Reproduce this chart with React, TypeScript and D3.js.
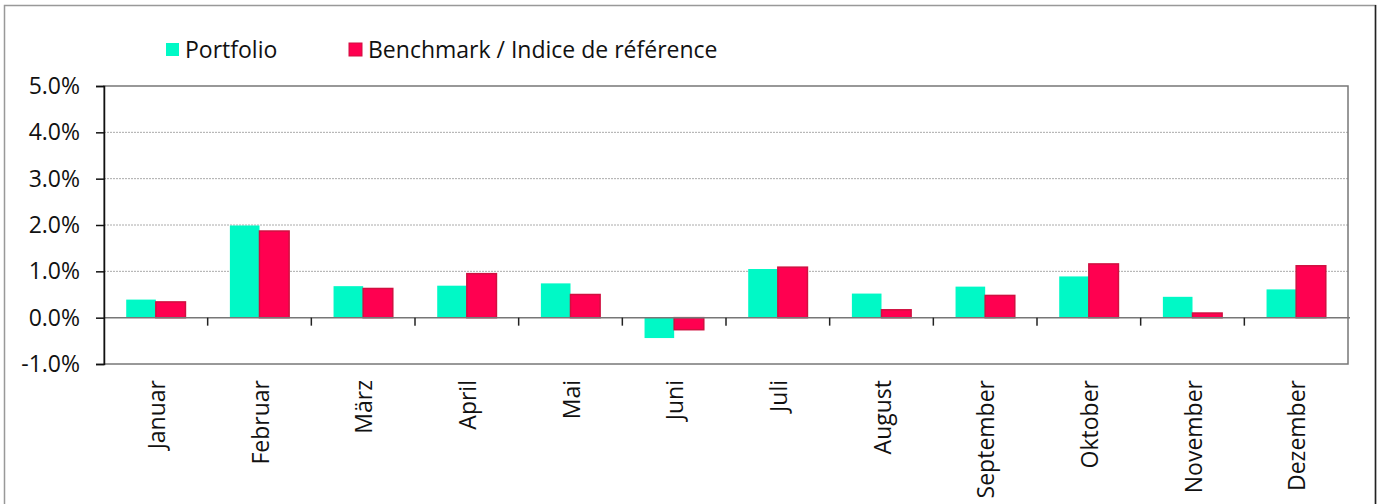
import React, { useEffect, useRef } from 'react';
import * as d3 from 'd3';

const months = ['Januar', 'Februar', 'März', 'April', 'Mai', 'Juni', 'Juli', 'August', 'September', 'Oktober', 'November', 'Dezember'];
const portfolio = [0.39, 1.99, 0.68, 0.69, 0.74, -0.44, 1.05, 0.52, 0.67, 0.89, 0.45, 0.61];
const benchmark = [0.34, 1.87, 0.63, 0.95, 0.50, -0.26, 1.09, 0.17, 0.48, 1.16, 0.10, 1.12];
const yTicks = [-1, 0, 1, 2, 3, 4, 5];
const seriesNames = ['Portfolio', 'Benchmark / Indice de référence'];

function Chart() {
  const ref = useRef<SVGSVGElement>(null);

  useEffect(() => {
    const svg = d3.select(ref.current);
    svg.selectAll('*').remove();

    const width = 1385, height = 504;
    const left = 104, right = 1348, top = 86, bottom = 364;
    const font = 'Open Sans, sans-serif';
    const fs = 23;

    svg.attr('width', width).attr('height', height);

    // outer frame (bottom edge runs off the picture)
    svg.append('rect')
      .attr('x', 4.5).attr('y', 5.5)
      .attr('width', 1371).attr('height', 510)
      .attr('fill', 'white').attr('stroke', '#999').attr('stroke-width', 1.5);
    svg.append('line')
      .attr('x1', 1375.5).attr('x2', 1375.5).attr('y1', 5).attr('y2', height)
      .attr('stroke', '#222').attr('stroke-width', 1.5);

    const x = d3.scaleBand().domain(months).range([left, right]);
    const y = d3.scaleLinear().domain([-1, 5]).range([bottom, top]);
    const barW = x.bandwidth() / 3.5;

    // gridlines
    svg.append('g')
      .selectAll('line')
      .data(yTicks.filter(d => d > 0 && d < 5))
      .enter()
      .append('line')
      .attr('x1', left).attr('x2', right)
      .attr('y1', d => y(d)).attr('y2', d => y(d))
      .attr('stroke', '#aaa').attr('stroke-dasharray', '2,1').attr('stroke-width', 1);

    // plot border
    svg.append('rect')
      .attr('x', left).attr('y', y(5))
      .attr('width', right - left).attr('height', y(-1) - y(5))
      .attr('fill', 'none').attr('stroke', '#777').attr('stroke-width', 1.5);

    const groups = svg.append('g')
      .selectAll('g')
      .data(months)
      .enter()
      .append('g')
      .attr('transform', d => `translate(${x(d)! + x.bandwidth() / 2 - barW},0)`);

    groups.append('rect')
      .attr('x', 0)
      .attr('y', (_, i) => y(Math.max(0, portfolio[i])))
      .attr('width', barW)
      .attr('height', (_, i) => Math.abs(y(portfolio[i]) - y(0)))
      .attr('fill', '#00F9C6');

    groups.append('rect')
      .attr('x', barW)
      .attr('y', (_, i) => y(Math.max(0, benchmark[i])))
      .attr('width', barW)
      .attr('height', (_, i) => Math.abs(y(benchmark[i]) - y(0)))
      .attr('fill', '#FF0050')
      .attr('stroke', '#D01040').attr('stroke-width', 1.5);

    // zero line with category ticks
    svg.append('line')
      .attr('x1', left).attr('x2', right + 2)
      .attr('y1', y(0)).attr('y2', y(0))
      .attr('stroke', '#777').attr('stroke-width', 1.5);

    svg.append('g')
      .selectAll('line')
      .data(months.slice(1))
      .enter()
      .append('line')
      .attr('x1', d => x(d)!).attr('x2', d => x(d)!)
      .attr('y1', y(0)).attr('y2', y(0) + 8)
      .attr('stroke', '#222').attr('stroke-width', 1.5);

    // y axis
    const yAxis = svg.append('g')
      .attr('transform', `translate(${left},0)`)
      .call(d3.axisLeft(y).tickValues(yTicks).tickSize(8).tickPadding(16).tickFormat(d => `${(+d).toFixed(1)}%`));
    yAxis.select('.domain').attr('stroke', '#111').attr('stroke-width', 1.5);
    yAxis.selectAll('.tick line').attr('stroke', '#111').attr('stroke-width', 1.5);
    yAxis.selectAll('.tick text')
      .attr('font-family', font).attr('font-size', fs).attr('font-weight', 500).attr('fill', '#111');

    // month labels
    svg.append('g')
      .selectAll('text')
      .data(months)
      .enter()
      .append('text')
      .attr('transform', d => `translate(${x(d)! + x.bandwidth() / 2 + 9},${bottom + 16}) rotate(-90)`)
      .attr('text-anchor', 'end')
      .attr('font-family', font).attr('font-size', fs).attr('font-weight', 500).attr('fill', '#111')
      .text(d => d);

    // legend
    const legendX = [166, 349];
    const legendColors = ['#00F9C6', '#FF0050'];
    seriesNames.forEach((name, i) => {
      svg.append('rect')
        .attr('x', legendX[i]).attr('y', 43)
        .attr('width', 13).attr('height', 13)
        .attr('fill', legendColors[i])
        .attr('stroke', i === 1 ? '#D01040' : 'none').attr('stroke-width', 1);
      svg.append('text')
        .attr('x', legendX[i] + 19).attr('y', 58)
        .attr('font-family', font).attr('font-size', fs).attr('font-weight', 500).attr('fill', '#111')
        .text(name);
    });
  }, []);

  return <svg ref={ref} style={{ position: 'absolute', left: 0, top: 0 }}></svg>;
}

export default function App() {
  return <Chart />;
}
